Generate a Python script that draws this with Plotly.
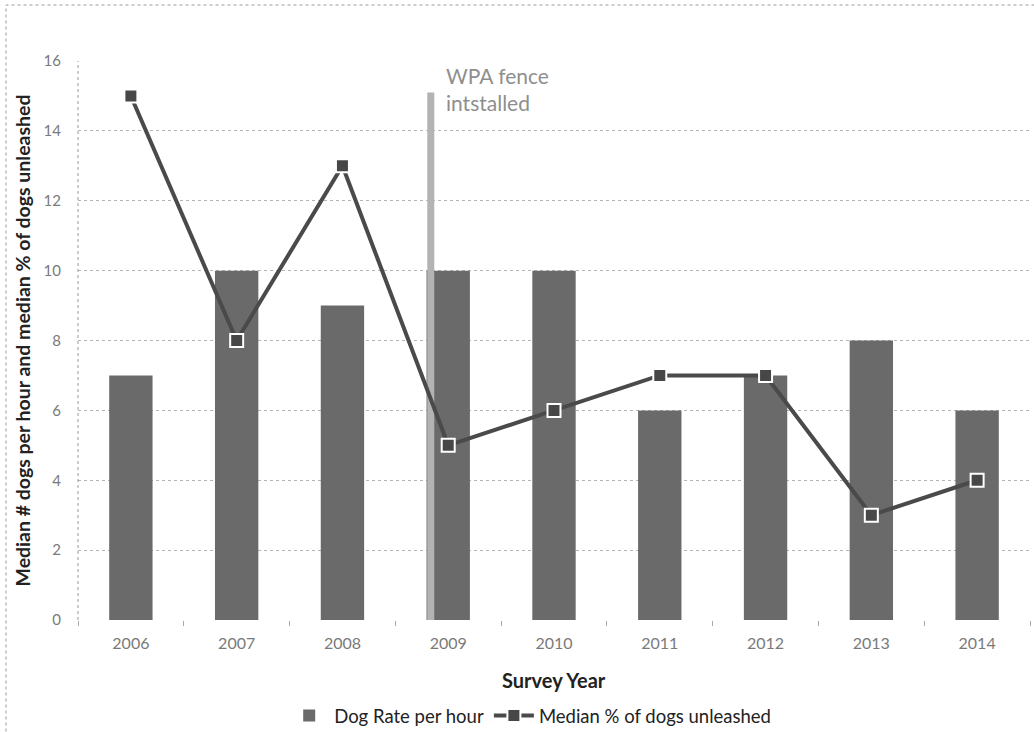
import plotly.graph_objects as go

# Survey data
years = [2006, 2007, 2008, 2009, 2010, 2011, 2012, 2013, 2014]
year_labels = ["2006", "2007", "2008", "2009", "2010", "2011", "2012", "2013", "2014"]
dog_rate_per_hour = [7, 10, 9, 10, 10, 6, 7, 8, 6]
median_pct_unleashed = [15, 8, 13, 5, 6, 7, 7, 3, 4]
y_ticks = [0, 2, 4, 6, 8, 10, 12, 14, 16]

# Fence installation marker (x position in years, height on y)
fence_x = [2008.835, 2008.835]
fence_y = [0, 15.1]
fence_label = "WPA fence<br>intstalled"

FONT = "Lato, 'Open Sans', sans-serif"
TICK_GREY = "#7a7a7a"
DARK = "#222222"

fig = go.Figure()

fig.add_trace(go.Bar(
    x=years,
    y=dog_rate_per_hour,
    name="Dog Rate per hour",
    width=0.41,
    marker=dict(color="#6a6a6a", line=dict(width=0)),
))

# Vertical line for the fence installation
fig.add_trace(go.Scatter(
    x=fence_x, y=fence_y, mode="lines",
    line=dict(color="#b3b3b3", width=7),
    showlegend=False, hoverinfo="skip",
))

fig.add_trace(go.Scatter(
    x=years,
    y=median_pct_unleashed,
    name="Median % of dogs unleashed",
    mode="lines+markers",
    line=dict(color="#4a4a4a", width=4),
    marker=dict(symbol="square", size=13, color="#474747",
                line=dict(color="white", width=2)),
))

fig.add_annotation(x=fence_x[0], y=1.0, xref="x", yref="paper",
                   text=fence_label, showarrow=False,
                   xanchor="left", yanchor="top", xshift=13, yshift=0,
                   align="left",
                   font=dict(family=FONT, size=21, color="#8e8e8e"))

# Axis titles
fig.add_annotation(x=-56 / 952, y=0.5, xref="paper", yref="paper",
                   text="<b>Median # dogs per hour and median % of dogs unleashed</b>",
                   textangle=-90, showarrow=False,
                   xanchor="center", yanchor="middle",
                   font=dict(family=FONT, size=19.5, color=DARK))

fig.add_annotation(x=0.5, y=-60 / 559, xref="paper", yref="paper",
                   text="<b>Survey Year</b>", showarrow=False,
                   xanchor="center", yanchor="middle",
                   font=dict(family=FONT, size=20, color=DARK))

# Dotted left axis line of the plot area
fig.add_shape(type="line", xref="paper", yref="paper",
              x0=0, x1=0, y0=0, y1=1,
              line=dict(color="#9a9a9a", width=1, dash="dot"))

# Dotted outer frame of the chart
fig.add_shape(type="rect", xref="paper", yref="paper",
              x0=-72 / 952, x1=1.2, y0=-1.3, y1=1 + 56 / 559,
              line=dict(color="#9a9a9a", width=1, dash="dot"),
              fillcolor="rgba(0,0,0,0)")

fig.update_layout(
    width=1034, height=732,
    margin=dict(l=78, r=4, t=61, b=112, autoexpand=False),
    paper_bgcolor="white", plot_bgcolor="white",
    font=dict(family=FONT, color=TICK_GREY),
    showlegend=True,
    legend=dict(orientation="h", x=0.475, xanchor="center",
                y=-96 / 559, yanchor="middle",
                font=dict(family=FONT, size=18.5, color=DARK),
                itemwidth=40, traceorder="normal"),
    xaxis=dict(
        range=[2005.5, 2014.5],
        tickvals=years, ticktext=year_labels,
        tickfont=dict(size=16, color=TICK_GREY),
        ticks="", ticklabelstandoff=12,
        minor=dict(ticks="outside", tick0=2005.5, dtick=1, ticklen=5,
                   tickcolor="#aaaaaa", showgrid=False),
        showgrid=False, showline=False, zeroline=False,
        automargin=False,
    ),
    yaxis=dict(
        range=[0, 16],
        tickvals=y_ticks,
        tickfont=dict(size=15, color=TICK_GREY),
        showgrid=True, gridcolor="#b5b5b5", griddash="dot", gridwidth=1,
        zeroline=False, showline=False,
        ticks="", ticklabelstandoff=16,
        automargin=False,
    ),
)

fig.write_html("out.html")
